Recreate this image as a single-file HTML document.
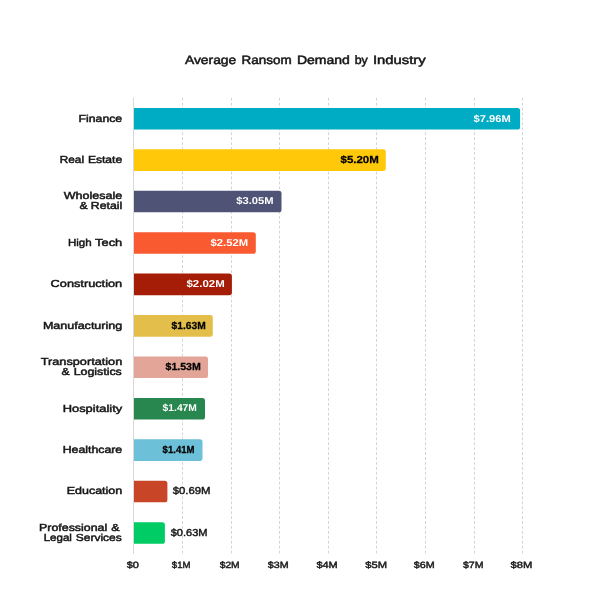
<!DOCTYPE html>
<html lang="en"><head><meta charset="utf-8"><title>Average Ransom Demand by Industry</title>
<style>html,body{margin:0;padding:0;background:#fff}body{width:612px;height:612px;overflow:hidden}svg{display:block}text{font-family:"Liberation Sans", sans-serif;fill:#1c1c1c;stroke:#1c1c1c;stroke-width:0;text-rendering:geometricPrecision}.t{font-size:12px;font-weight:400;stroke-width:.5px;fill:#151515;stroke:#151515}.l{font-size:10.2px;font-weight:400;stroke-width:.48px;fill:#161616;stroke:#161616}.vw{font-size:10px;font-weight:700;stroke-width:0}.vb{font-size:10.2px;font-weight:700;stroke-width:.25px;fill:#000;stroke:#000}.vo{font-size:10.1px;font-weight:400;stroke-width:.42px;fill:#141414;stroke:#141414}.a{font-size:9.1px;font-weight:400;stroke-width:.45px}</style></head><body>
<svg width="612" height="612" viewBox="0 0 612 612">
<rect width="612" height="612" fill="#fff"/>
<text class="t"><tspan x="184.90" y="64.20" textLength="51.40" lengthAdjust="spacingAndGlyphs">Average</tspan> <tspan x="241.60" y="64.20" textLength="50.20" lengthAdjust="spacingAndGlyphs">Ransom</tspan> <tspan x="296.90" y="64.20" textLength="53.00" lengthAdjust="spacingAndGlyphs">Demand</tspan> <tspan x="354.70" y="64.20" textLength="13.10" lengthAdjust="spacingAndGlyphs">by</tspan> <tspan x="373.00" y="64.20" textLength="52.70" lengthAdjust="spacingAndGlyphs">Industry</tspan></text>
<line x1="182.50" y1="97.8" x2="182.50" y2="554.1" stroke="#d4d4d4" stroke-width="1" stroke-dasharray="2.8 2.122"/>
<line x1="231.50" y1="97.8" x2="231.50" y2="554.1" stroke="#d4d4d4" stroke-width="1" stroke-dasharray="2.8 2.122"/>
<line x1="279.50" y1="97.8" x2="279.50" y2="554.1" stroke="#d4d4d4" stroke-width="1" stroke-dasharray="2.8 2.122"/>
<line x1="328.50" y1="97.8" x2="328.50" y2="554.1" stroke="#d4d4d4" stroke-width="1" stroke-dasharray="2.8 2.122"/>
<line x1="376.50" y1="97.8" x2="376.50" y2="554.1" stroke="#d4d4d4" stroke-width="1" stroke-dasharray="2.8 2.122"/>
<line x1="425.50" y1="97.8" x2="425.50" y2="554.1" stroke="#d4d4d4" stroke-width="1" stroke-dasharray="2.8 2.122"/>
<line x1="474.50" y1="97.8" x2="474.50" y2="554.1" stroke="#d4d4d4" stroke-width="1" stroke-dasharray="2.8 2.122"/>
<line x1="522.50" y1="97.8" x2="522.50" y2="554.1" stroke="#d4d4d4" stroke-width="1" stroke-dasharray="2.8 2.122"/>
<line x1="133.50" y1="97.4" x2="133.50" y2="554" stroke="#d8d8d8" stroke-width="1"/>
<path d="M134.00 107.90H517.50a2.6 2.6 0 0 1 2.6 2.6V126.90a2.6 2.6 0 0 1 -2.6 2.6H134.00Z" fill="#00acc3"/>
<text class="vw" x="473.50" y="122.20" textLength="37.20" lengthAdjust="spacingAndGlyphs" style="fill:#fff;stroke:#fff">$7.96M</text>
<text class="l"><tspan x="78.60" y="121.60" textLength="43.60" lengthAdjust="spacingAndGlyphs">Finance</tspan></text>
<path d="M134.00 149.33H383.20a2.6 2.6 0 0 1 2.6 2.6V168.33a2.6 2.6 0 0 1 -2.6 2.6H134.00Z" fill="#ffc90a"/>
<text class="vb" x="340.50" y="163.30" textLength="38.30" lengthAdjust="spacingAndGlyphs">$5.20M</text>
<text class="l"><tspan x="59.80" y="162.80" textLength="24.20" lengthAdjust="spacingAndGlyphs">Real</tspan> <tspan x="87.90" y="162.80" textLength="34.30" lengthAdjust="spacingAndGlyphs">Estate</tspan></text>
<path d="M134.00 190.76H278.90a2.6 2.6 0 0 1 2.6 2.6V209.76a2.6 2.6 0 0 1 -2.6 2.6H134.00Z" fill="#4f5477"/>
<text class="vw" x="236.30" y="204.20" textLength="37.30" lengthAdjust="spacingAndGlyphs" style="fill:#fff;stroke:#fff">$3.05M</text>
<text class="l"><tspan x="63.70" y="198.60" textLength="58.50" lengthAdjust="spacingAndGlyphs">Wholesale</tspan> <tspan x="79.40" y="209.40" textLength="8.10" lengthAdjust="spacingAndGlyphs">&amp;</tspan> <tspan x="90.80" y="209.40" textLength="31.40" lengthAdjust="spacingAndGlyphs">Retail</tspan></text>
<path d="M134.00 232.19H253.20a2.6 2.6 0 0 1 2.6 2.6V251.19a2.6 2.6 0 0 1 -2.6 2.6H134.00Z" fill="#fa5a30"/>
<text class="vw" x="210.50" y="245.90" textLength="37.50" lengthAdjust="spacingAndGlyphs" style="fill:#fff;stroke:#fff">$2.52M</text>
<text class="l"><tspan x="67.90" y="245.90" textLength="23.70" lengthAdjust="spacingAndGlyphs">High</tspan> <tspan x="95.10" y="245.90" textLength="27.10" lengthAdjust="spacingAndGlyphs">Tech</tspan></text>
<path d="M134.00 273.62H229.30a2.6 2.6 0 0 1 2.6 2.6V292.62a2.6 2.6 0 0 1 -2.6 2.6H134.00Z" fill="#a51c07"/>
<text class="vw" x="186.50" y="287.10" textLength="38.20" lengthAdjust="spacingAndGlyphs" style="fill:#fff;stroke:#fff">$2.02M</text>
<text class="l"><tspan x="50.60" y="287.30" textLength="71.60" lengthAdjust="spacingAndGlyphs">Construction</tspan></text>
<path d="M134.00 315.05H210.20a2.6 2.6 0 0 1 2.6 2.6V334.05a2.6 2.6 0 0 1 -2.6 2.6H134.00Z" fill="#e3be4a"/>
<text class="vb" x="171.60" y="328.80" textLength="34.15" lengthAdjust="spacingAndGlyphs">$1.63M</text>
<text class="l"><tspan x="42.90" y="329.00" textLength="79.30" lengthAdjust="spacingAndGlyphs">Manufacturing</tspan></text>
<path d="M134.00 356.48H205.40a2.6 2.6 0 0 1 2.6 2.6V375.48a2.6 2.6 0 0 1 -2.6 2.6H134.00Z" fill="#e2a597"/>
<text class="vb" x="165.50" y="370.10" textLength="35.30" lengthAdjust="spacingAndGlyphs">$1.53M</text>
<text class="l"><tspan x="40.80" y="364.90" textLength="81.40" lengthAdjust="spacingAndGlyphs">Transportation</tspan> <tspan x="61.50" y="375.30" textLength="8.10" lengthAdjust="spacingAndGlyphs">&amp;</tspan> <tspan x="73.70" y="375.30" textLength="48.10" lengthAdjust="spacingAndGlyphs">Logistics</tspan></text>
<path d="M134.00 397.91H202.40a2.6 2.6 0 0 1 2.6 2.6V416.91a2.6 2.6 0 0 1 -2.6 2.6H134.00Z" fill="#27874f"/>
<text class="vw" x="162.60" y="411.10" textLength="34.30" lengthAdjust="spacingAndGlyphs" style="fill:#fff;stroke:#fff">$1.47M</text>
<text class="l"><tspan x="62.70" y="412.20" textLength="59.50" lengthAdjust="spacingAndGlyphs">Hospitality</tspan></text>
<path d="M134.00 439.34H199.90a2.6 2.6 0 0 1 2.6 2.6V458.34a2.6 2.6 0 0 1 -2.6 2.6H134.00Z" fill="#6cc0d8"/>
<text class="vb" x="162.60" y="452.70" textLength="31.90" lengthAdjust="spacingAndGlyphs">$1.41M</text>
<text class="l"><tspan x="62.70" y="453.10" textLength="59.50" lengthAdjust="spacingAndGlyphs">Healthcare</tspan></text>
<path d="M134.00 480.77H164.80a2.6 2.6 0 0 1 2.6 2.6V499.77a2.6 2.6 0 0 1 -2.6 2.6H134.00Z" fill="#c84528"/>
<text class="vo" x="172.70" y="494.20" textLength="37.90" lengthAdjust="spacingAndGlyphs">$0.69M</text>
<text class="l"><tspan x="66.70" y="493.90" textLength="55.50" lengthAdjust="spacingAndGlyphs">Education</tspan></text>
<path d="M134.00 522.20H162.30a2.6 2.6 0 0 1 2.6 2.6V541.20a2.6 2.6 0 0 1 -2.6 2.6H134.00Z" fill="#00cc66"/>
<text class="vo" x="170.70" y="535.60" textLength="36.90" lengthAdjust="spacingAndGlyphs">$0.63M</text>
<text class="l"><tspan x="39.10" y="530.60" textLength="68.10" lengthAdjust="spacingAndGlyphs">Professional</tspan> <tspan x="111.30" y="530.60" textLength="8.30" lengthAdjust="spacingAndGlyphs">&amp;</tspan> <tspan x="43.70" y="540.80" textLength="28.20" lengthAdjust="spacingAndGlyphs">Legal</tspan> <tspan x="75.80" y="540.80" textLength="46.00" lengthAdjust="spacingAndGlyphs">Services</tspan></text>
<text class="a" x="126.80" y="568.00" textLength="12.10" lengthAdjust="spacingAndGlyphs">$0</text>
<text class="a" x="171.80" y="568.00" textLength="18.70" lengthAdjust="spacingAndGlyphs">$1M</text>
<text class="a" x="219.70" y="568.00" textLength="20.00" lengthAdjust="spacingAndGlyphs">$2M</text>
<text class="a" x="267.80" y="568.00" textLength="20.80" lengthAdjust="spacingAndGlyphs">$3M</text>
<text class="a" x="316.40" y="568.00" textLength="21.40" lengthAdjust="spacingAndGlyphs">$4M</text>
<text class="a" x="365.30" y="568.00" textLength="21.80" lengthAdjust="spacingAndGlyphs">$5M</text>
<text class="a" x="413.80" y="568.00" textLength="20.90" lengthAdjust="spacingAndGlyphs">$6M</text>
<text class="a" x="462.90" y="568.00" textLength="20.60" lengthAdjust="spacingAndGlyphs">$7M</text>
<text class="a" x="510.60" y="568.00" textLength="21.80" lengthAdjust="spacingAndGlyphs">$8M</text>
</svg></body></html>
